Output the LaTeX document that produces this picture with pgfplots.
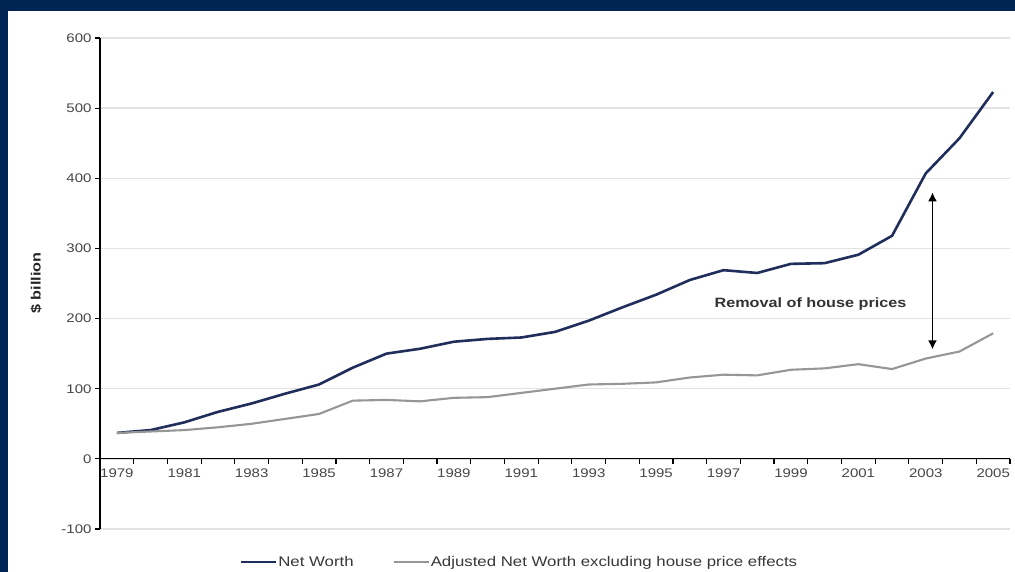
\documentclass[border=0pt]{standalone}
\usepackage{fontspec}
\setmainfont{Liberation Sans}[FakeStretch=1.2]
\usepackage{pgfplots}
\pgfplotsset{compat=1.18}
\usetikzlibrary{arrows.meta}
\definecolor{frame}{RGB}{0,36,84}
\definecolor{netc}{RGB}{32,46,92}
\definecolor{adjc}{RGB}{150,150,150}
\definecolor{gridc}{RGB}{226,226,226}
\pgfplotstableread{
year net adj
1979 37 37
1980 41 39
1981 52 41
1982 67 45
1983 79 50
1984 93 57
1985 106 64
1986 130 83
1987 150 84
1988 157 82
1989 167 87
1990 171 88
1991 173 94
1992 181 100
1993 197 106
1994 216 107
1995 234 109
1996 255 116
1997 269 120
1998 265 119
1999 278 127
2000 279 129
2001 291 135
2002 318 128
2003 407 143
2004 457 153
2005 523 179
}\data
\begin{document}
\begin{tikzpicture}[x=1pt,y=1pt]
\useasboundingbox (0,0) rectangle (1015,572);
\fill[frame] (0,0) rectangle (1015,572);
\fill[white] (8,0) rectangle (1015,561);
\begin{axis}[
  at={(100pt,43pt)}, anchor=south west,
  scale only axis, width=910pt, height=491pt,
  xmin=1978.5, xmax=2005.5, ymin=-100, ymax=600,
  axis x line=middle, axis y line=left,
  axis line style={-, black, line width=1.2pt},
  tick align=outside,
  major tick length=5pt,
  tick style={black, line width=1.2pt},
  xtick={1979.5,1980.5,...,2005.5},
  xticklabels={},
  extra x ticks={1979,1981,...,2005},
  extra x tick labels={1979,1981,1983,1985,1987,1989,1991,1993,1995,1997,1999,2001,2003,2005},
  extra x tick style={major tick length=0pt, grid=none,
     tick label style={yshift=-6pt}},
  ytick={-100,0,100,...,600},
  yticklabels={-100,0,100,200,300,400,500,600},
  ymajorgrids, grid style={gridc, line width=1.3pt},
  ticklabel style={font=\fontsize{12.5}{14}\selectfont, text=black!72},
  every axis y label/.style={at={(axis description cs:-0.0703,0.501)}, rotate=90, anchor=center},
  ylabel={\bfseries\$ billion},
  ylabel style={font=\fontsize{13.5}{15}\selectfont\bfseries, text=black!85},
  legend style={at={(axis description cs:0.4604,-0.067)}, anchor=center, draw=none, fill=none,
     legend columns=2, font=\fontsize{14}{16}\selectfont, text=black!78,
     /tikz/every even column/.append style={column sep=38pt},
     nodes={inner xsep=1pt}},
  legend image code/.code={\draw[#1] (0pt,0pt) -- (35pt,0pt);},
  clip=false,
]
\addplot[netc, line width=2.6pt, line join=round] table[x=year, y=net] {\data};
\addlegendentry{Net Worth}
\addplot[adjc, line width=2.1pt, line join=round] table[x=year, y=adj] {\data};
\addlegendentry{Adjusted Net Worth excluding house price effects}
\draw[{Latex[length=9pt,width=9pt]}-{Latex[length=9pt,width=9pt]}, black, line width=1.8pt] (axis cs:2003.2,380) -- (axis cs:2003.2,156);
\node[font=\fontsize{13.5}{15}\selectfont\bfseries, text=black!80] at (axis cs:1999.58,221) {Removal of house prices};
\end{axis}
\end{tikzpicture}
\end{document}
